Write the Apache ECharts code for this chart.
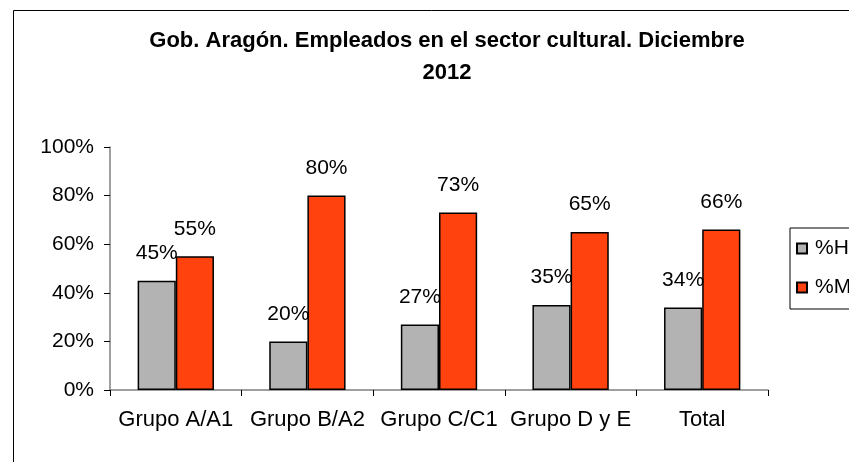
<!DOCTYPE html>
<html>
<head>
<meta charset="utf-8">
<script src="https://cdn.jsdelivr.net/npm/echarts@6/dist/echarts.min.js"></script>
<style>
  html, body { margin: 0; padding: 0; background: #fff; }
  #main { width: 849px; height: 462px; }
</style>
</head>
<body>
<div id="main"></div>
<script>
const categories = ['Grupo A/A1', 'Grupo B/A2', 'Grupo C/C1', 'Grupo D y E', 'Total'];
const hombres = [45, 20, 27, 35, 34];
const mujeres = [55, 80, 73, 65, 66];
const seriesNames = ['%Hombres', '%Mujeres'];

const chart = echarts.init(document.getElementById('main'));

const font = 'Liberation Sans, Arial, sans-serif';

function barSeries(name, data, color) {
  return {
    name: name,
    type: 'bar',
    data: data,
    barGap: '0%',
    barCategoryGap: '42%',
    itemStyle: { color: color, borderColor: '#000', borderWidth: 1.5 },
    label: {
      show: true,
      position: 'top',
      distance: 17,
      formatter: '{c}%',
      color: '#000',
      fontFamily: font,
      fontSize: 21
    }
  };
}

let option = {
  backgroundColor: '#fff',
  animation: false,
  title: {
    text: 'Gob. Aragón. Empleados en el sector cultural. Diciembre\n2012',
    left: 442,
    textAlign: 'center',
    top: 20,
    textStyle: {
      fontFamily: font,
      fontWeight: 'bold',
      fontSize: 22,
      lineHeight: 32,
      color: '#000'
    }
  },
  legend: {
    orient: 'vertical',
    left: 790,
    top: 228,
    width: 120,
    padding: [10, 40, 11, 6],
    itemGap: 18,
    itemWidth: 10,
    itemHeight: 10,
    icon: 'rect',
    borderColor: '#000',
    borderWidth: 1,
    textStyle: { fontFamily: font, fontSize: 21, color: '#000', padding: [0, 0, 0, 3] },
    data: seriesNames
  },
  grid: { left: 110, right: 81, top: 147, bottom: 72 },
  xAxis: {
    type: 'category',
    data: categories,
    axisLine: { lineStyle: { color: '#808080', width: 1.5 } },
    axisTick: { show: true, length: 6, lineStyle: { color: '#000' } },
    axisLabel: { interval: 0, color: '#000', fontFamily: font, fontSize: 22, margin: 19 }
  },
  yAxis: {
    type: 'value',
    min: 0,
    max: 100,
    interval: 20,
    axisLine: { show: true, lineStyle: { color: '#808080', width: 1.5 } },
    axisTick: { show: true, length: 6, lineStyle: { color: '#000' } },
    splitLine: { show: false },
    axisLabel: { formatter: '{value}%', color: '#000', fontFamily: font, fontSize: 21, margin: 16 }
  },
  graphic: [{
    type: 'rect',
    shape: { x: 13.5, y: 10.5, width: 900, height: 500 },
    style: { fill: 'none', stroke: '#000', lineWidth: 1 },
    silent: true
  }],
  series: [
    barSeries(seriesNames[0], hombres, '#b3b3b3'),
    barSeries(seriesNames[1], mujeres, '#ff420e')
  ]
};

chart.setOption(option);
</script>
</body>
</html>
